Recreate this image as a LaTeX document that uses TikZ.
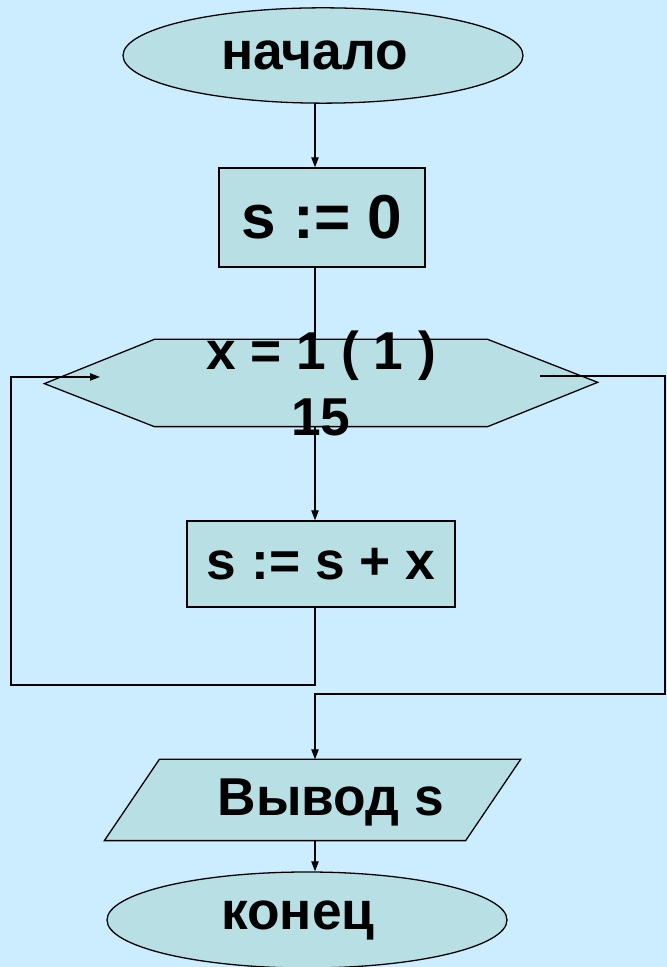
\documentclass[tikz,border=0pt]{standalone}
\usepackage{fontspec}
\setmainfont{Liberation Sans}
\usepackage{tikz}
\usepackage{xcolor}
\usetikzlibrary{positioning}
\usetikzlibrary{shapes.geometric,arrows.meta}
\definecolor{sky}{RGB}{204,236,255}
\definecolor{boxfill}{RGB}{184,224,228}

\begin{document}
\begin{tikzpicture}[
    line width=1.1pt,
    arr/.style={-{Triangle[length=0.3cm,width=0.22cm]}},
    oval/.style={ellipse,draw,fill=boxfill,minimum width=12cm,minimum height=2.86cm,inner sep=0pt},
    block/.style={rectangle,draw,fill=boxfill,inner sep=0pt},
    frame/.style={rectangle,inner sep=0pt},
    txt/.style={font=\bfseries\fontsize{45.5}{56}\selectfont}
]
    \fill[sky] (0,0) rectangle (20.01,29.01);
    \useasboundingbox (0,0) rectangle (20.01,29.01);
    \coordinate (axis) at (9.45,0);

    \node[oval,txt] (start) at (9.69,27.345) {начало\hspace*{0.5cm}};
    \node[block,txt,font=\bfseries\fontsize{53}{60}\selectfont,minimum width=6.18cm,minimum height=2.97cm] (init) at (9.66,22.485) {s := 0};
    \draw[arr] (start.south -| axis) -- (init.north -| axis);

    \node[frame,minimum width=9.96cm,minimum height=2.58cm] (loop) at (9.63,17.52) {};
    \draw (init.south -| axis) -- (loop.north -| axis);
    \filldraw[fill=boxfill] (loop.north west) -- (loop.north east) -- ++(3.3,-1.29) -- (loop.south east) -- (loop.south west) -- ++(-3.3,1.29) -- cycle;
    \node[txt,align=center] (looptxt) at (9.63,17.5) {x = 1 ( 1 )\\15};

    \node[block,txt,minimum width=8.04cm,minimum height=2.58cm] (body) at (9.63,12.09) {s := s + x};
    \draw[arr] (loop.south -| axis) -- (body.north -| axis);

    \coordinate (lbot) at (0.33,8.46);
    \coordinate (ltop) at (0.33,17.70);
    \coordinate (lin) at (3.0,17.70);
    \draw[arr] (body.south -| axis) |- (lbot) -- (ltop) -- (lin);

    \node[frame,minimum width=9.15cm,minimum height=2.4cm] (output) at (9.375,5.01) {};
    \filldraw[fill=boxfill] (output.north west) -- (output.north east) -- ++(1.65,0) -- (output.south east) -- (output.south west) -- ++(-1.65,0) -- cycle;
    \node[txt] (outtxt) at (9.93,4.95) {Вывод s};

    \coordinate (rout) at (16.2,17.73);
    \coordinate (rtop) at (19.95,17.73);
    \coordinate (join) at (9.45,8.19);
    \draw[arr] (rout) -- (rtop) |- (join) -- (output.north -| axis);

    \node[oval,txt,minimum height=2.88cm] (stop) at (9.21,1.41) {конец\hspace*{0.54cm}};
    \draw[arr] (output.south -| axis) -- (stop.north -| axis);
\end{tikzpicture}
\end{document}
